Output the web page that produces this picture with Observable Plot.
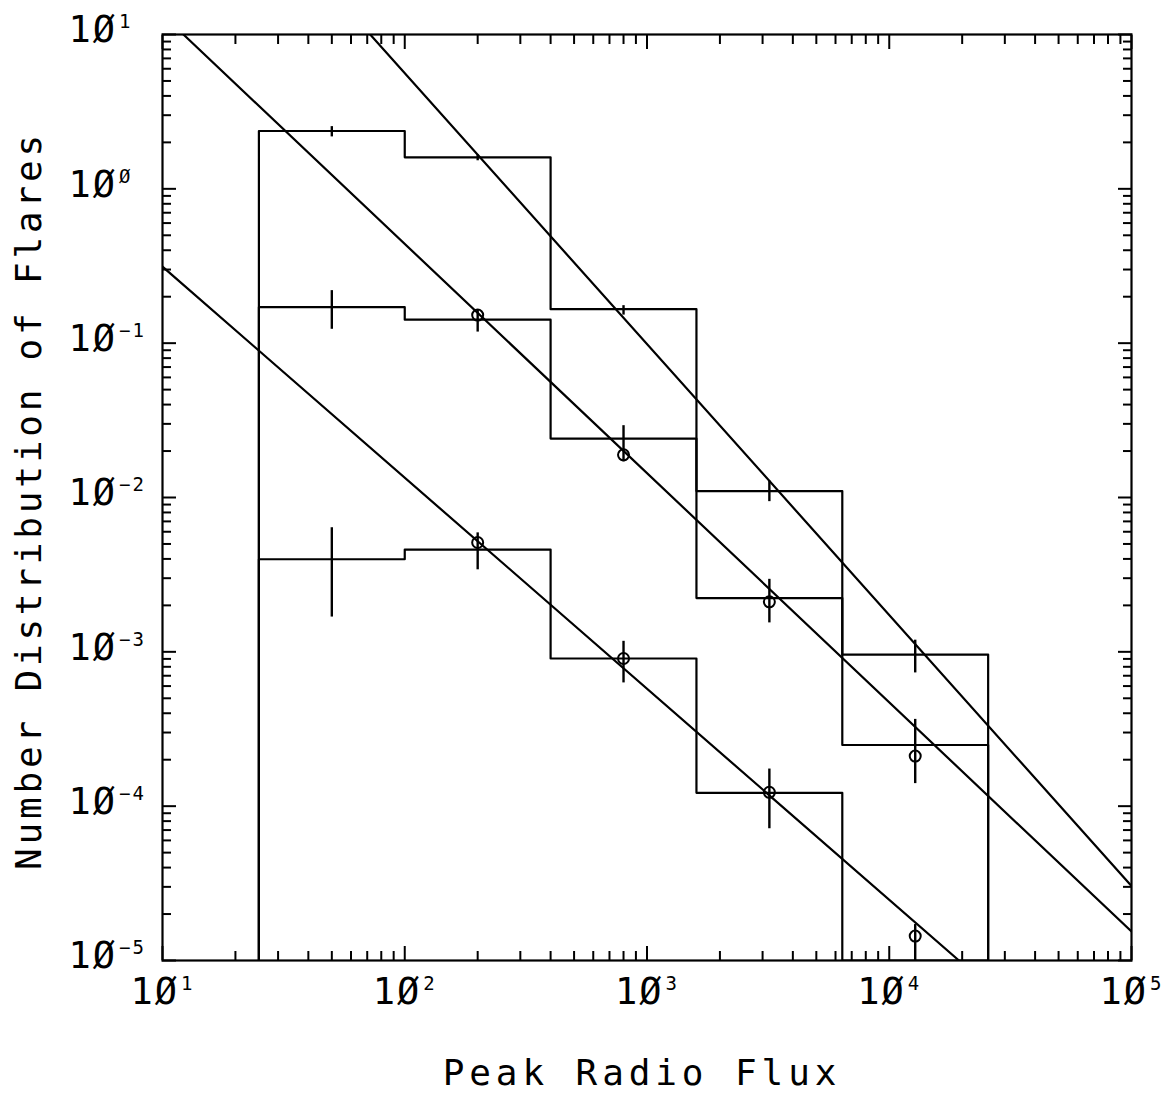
<!DOCTYPE html>
<html>
<head>
<meta charset="utf-8">
<script src="https://cdn.jsdelivr.net/npm/d3@7"></script>
<script src="https://cdn.jsdelivr.net/npm/@observablehq/plot@0.6"></script>
<style>
  html, body { margin: 0; padding: 0; background: #fff; }
  #chart svg { display: block; }
</style>
</head>
<body>
<div id="chart"></div>
<script>
// ---- data ----
const binEdges   = [25, 100, 400, 1600, 6400, 25600];
const binCenters = [50, 200, 800, 3200, 12800];

// histogram heights (top, middle, lower distributions)
const histTop = [2.37, 1.60, 0.166, 0.0110, 9.6e-4];
const histMid = [0.171, 0.142, 0.0241, 2.23e-3, 2.49e-4];
const histLow = [3.98e-3, 4.60e-3, 9.05e-4, 1.22e-4, 1.0e-5];

// error bars (low / high) at the bin centres
const errTopLo = [2.17, 1.52, 0.152, 0.0094, 7.3e-4];
const errTopHi = [2.53, 1.66, 0.175, 0.0128, 1.19e-3];
const errMidLo = [0.123, 0.118, 0.017, 1.54e-3, 1.40e-4];
const errMidHi = [0.219, 0.163, 0.0292, 2.95e-3, 3.65e-4];
const errLowLo = [1.68e-3, 3.40e-3, 6.29e-4, 7.14e-5, 8e-6];
const errLowHi = [6.37e-3, 5.90e-3, 1.17e-3, 1.74e-4, 1.71e-5];

// open-circle points (bins 2..5)
const pointX   = [200, 800, 3200, 12800];
const pointMid = [0.152, 0.0189, 2.11e-3, 2.11e-4];
const pointLow = [5.11e-3, 9.05e-4, 1.23e-4, 1.44e-5];

// power-law fit lines (end points)
const fitAX = [72, 1e5],   fitAY = [10, 3.04e-5];
const fitBX = [12.2, 1e5], fitBY = [10, 1.54e-5];
const fitCX = [10, 19400], fitCY = [0.313, 1e-5];

// axes
const xDomain = [1e1, 1e5];
const yDomain = [1e-5, 1e1];
const xMajor = [1e1, 1e2, 1e3, 1e4, 1e5];
const yMajor = [1e-5, 1e-4, 1e-3, 1e-2, 1e-1, 1e0, 1e1];
const minorMultipliers = [2, 3, 4, 5, 6, 7, 8, 9];
const xTitle = "Peak Radio Flux";
const yTitle = "Number Distribution of Flares";

// ---- build tables ----
const minorOf = majors => majors.slice(0, -1).flatMap(m => minorMultipliers.map(k => m * k));
const xMinor = minorOf(xMajor);
const yMinor = minorOf(yMajor);

const floor = yDomain[0];
function steps(values, series) {
  const pts = [{series, x: binEdges[0], y: floor}];
  values.forEach((v, i) => {
    pts.push({series, x: binEdges[i], y: v});
    pts.push({series, x: binEdges[i + 1], y: v});
  });
  pts.push({series, x: binEdges[binEdges.length - 1], y: floor});
  return pts;
}
const histData = [...steps(histTop, "top"), ...steps(histMid, "mid"), ...steps(histLow, "low")];

const fitData = [
  ...fitAX.map((x, i) => ({series: "A", x, y: fitAY[i]})),
  ...fitBX.map((x, i) => ({series: "B", x, y: fitBY[i]})),
  ...fitCX.map((x, i) => ({series: "C", x, y: fitCY[i]}))
];

const errData = [
  ...binCenters.map((x, i) => ({x, lo: errTopLo[i], hi: errTopHi[i]})),
  ...binCenters.map((x, i) => ({x, lo: errMidLo[i], hi: errMidHi[i]})),
  ...binCenters.map((x, i) => ({x, lo: errLowLo[i], hi: errLowHi[i]}))
];

const pointData = [
  ...pointX.map((x, i) => ({x, y: pointMid[i]})),
  ...pointX.map((x, i) => ({x, y: pointLow[i]}))
];

const FONT = "DejaVu Sans Mono";
const fmt = d => "1Ø^" + String(Math.round(Math.log10(d))).replace("-", "−").replace(/0/g, "Ø");
const blank = () => "";
const INK = "#000";

const majorLen = 14, minorLen = 9, tickW = 2;

const marks = [
  // inward ticks on all four sides
  Plot.axisX(xMinor, {anchor: "bottom", tickSize: minorLen, dy: -minorLen, tickFormat: blank, strokeWidth: tickW, label: null}),
  Plot.axisX(xMajor, {anchor: "bottom", tickSize: majorLen, dy: -majorLen, tickFormat: blank, strokeWidth: tickW, label: null}),
  Plot.axisX(xMinor, {anchor: "top", tickSize: minorLen, dy: minorLen, tickFormat: blank, strokeWidth: tickW, label: null}),
  Plot.axisX(xMajor, {anchor: "top", tickSize: majorLen, dy: majorLen, tickFormat: blank, strokeWidth: tickW, label: null}),
  Plot.axisY(yMinor, {anchor: "left", tickSize: minorLen, dx: minorLen, tickFormat: blank, strokeWidth: tickW, label: null}),
  Plot.axisY(yMajor, {anchor: "left", tickSize: majorLen, dx: majorLen, tickFormat: blank, strokeWidth: tickW, label: null}),
  Plot.axisY(yMinor, {anchor: "right", tickSize: minorLen, dx: -minorLen, tickFormat: blank, strokeWidth: tickW, label: null}),
  Plot.axisY(yMajor, {anchor: "right", tickSize: majorLen, dx: -majorLen, tickFormat: blank, strokeWidth: tickW, label: null}),
  // tick labels
  Plot.axisX(xMajor, {anchor: "bottom", tickSize: 0, tickPadding: 17, tickFormat: fmt, fontSize: 37, fontFamily: FONT, label: null}),
  Plot.axisY(yMajor, {anchor: "left", tickSize: 0, tickPadding: 94, textAnchor: "start", dy: -4, tickFormat: fmt, fontSize: 37, fontFamily: FONT, label: null}),
  // histograms
  Plot.line(histData, {x: "x", y: "y", z: "series", stroke: INK, strokeWidth: 2.2, clip: true}),
  // fits
  Plot.line(fitData, {x: "x", y: "y", z: "series", stroke: INK, strokeWidth: 2.2, clip: true}),
  // error bars
  Plot.ruleX(errData, {x: "x", y1: "lo", y2: "hi", stroke: INK, strokeWidth: 2.4, clip: true}),
  // points
  Plot.dot(pointData, {x: "x", y: "y", r: 5.5, stroke: INK, strokeWidth: 2, fill: "none"}),
  // frame
  Plot.frame({stroke: INK, strokeWidth: 2.2}),
  // titles
  Plot.text([xTitle], {frameAnchor: "bottom", textAnchor: "middle", lineAnchor: "middle", dy: 113, dx: -5, fontSize: 36, fontFamily: FONT, fill: INK, text: d => d}),
  Plot.text([yTitle], {frameAnchor: "left", textAnchor: "middle", lineAnchor: "middle", rotate: -90, dx: -133, dy: 3, fontSize: 36, fontFamily: FONT, fill: INK, text: d => d})
];

const svg = Plot.plot({
  width: 1172,
  height: 1099,
  marginLeft: 162,
  marginRight: 41,
  marginTop: 34,
  marginBottom: 139,
  x: {type: "log", domain: xDomain},
  y: {type: "log", domain: yDomain},
  style: {fontFamily: FONT, color: INK, background: "#fff", overflow: "visible"},
  marks
});

// superscript exponents on tick labels
const NS = "http://www.w3.org/2000/svg";
svg.querySelectorAll('g[aria-label="x-axis tick label"] text, g[aria-label="y-axis tick label"] text').forEach(t => {
  const s = t.textContent;
  if (!s.includes("^")) return;
  const [base, exp] = s.split("^");
  t.textContent = "";
  const a = document.createElementNS(NS, "tspan");
  a.textContent = base;
  const b = document.createElementNS(NS, "tspan");
  b.setAttribute("font-size", "19");
  b.setAttribute("dy", "-14");
  b.setAttribute("dx", "2");
  b.textContent = exp;
  t.append(a, b);
  t.setAttribute("letter-spacing", "2");
});
// letter spacing on titles
svg.querySelectorAll('g[aria-label="text"] text').forEach(t => {
  const s = t.textContent;
  t.setAttribute("letter-spacing", s === xTitle ? "4.9" : "3.8");
});

document.getElementById("chart").append(svg);
</script>
</body>
</html>
